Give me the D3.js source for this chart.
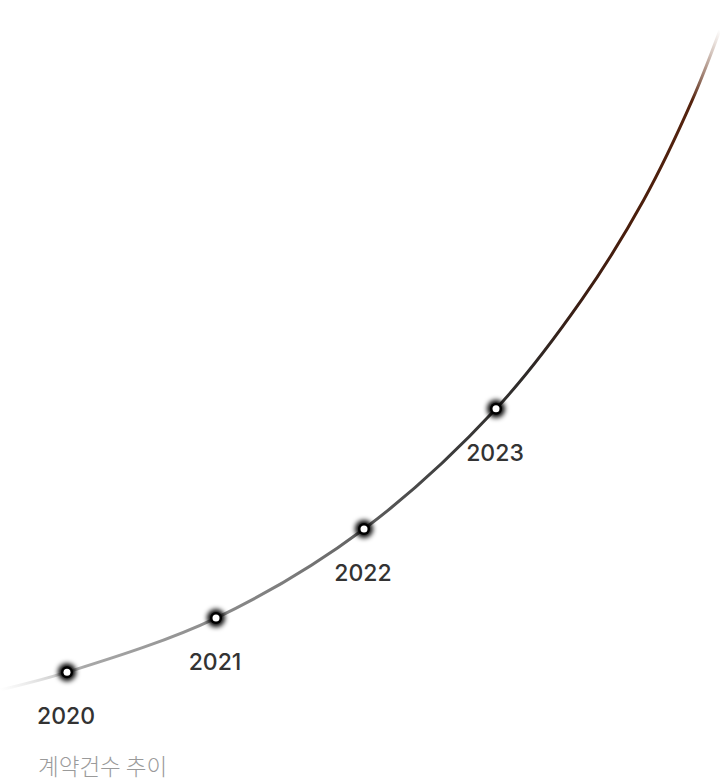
<!DOCTYPE html>
<html>
<head>
<meta charset="utf-8">
<script src="https://cdn.jsdelivr.net/npm/d3@7"></script>
<style>
  body { margin: 0; background: #fff; }
  svg { display: block; }
</style>
</head>
<body>
<script>
// chart size
const width = 720;
const height = 784;

// data: yearly contract counts (relative)
const years = [2020, 2021, 2022, 2023];
const counts = [27, 109, 244, 426];
// the curve runs a little past the first and last year and fades out
const leadYears = [2019.55];
const leadCounts = [0];
const tailYears = [2023.65, 2024.12, 2024.49, 2024.7];
const tailCounts = [591, 742, 894, 1000];
const title = "계약건수 추이";

// scales
const xScale = d3.scaleLinear()
  .domain([2019.55, 2020, 2021, 2022, 2023, 2024.7])
  .range([0, 67, 216, 364, 496, 720]);
const yScale = d3.scaleLinear().domain([0, 1000]).range([690, 30]);

const svg = d3.select("body")
  .append("svg")
    .attr("width", width)
    .attr("height", height);

const defs = svg.append("defs");

// line colour runs from light grey to dark grey to brown, fading at both ends
const grad = defs.append("linearGradient")
  .attr("id", "lineGrad")
  .attr("gradientUnits", "userSpaceOnUse")
  .attr("x1", 0).attr("y1", 690)
  .attr("x2", 720).attr("y2", 30);
[
  [0, "#cccccc", 0],
  [0.08, "#a8a8a8", 1],
  [0.3, "#7a7a7a", 1],
  [0.5, "#3c3c3c", 1],
  [0.62, "#2e2a28", 1],
  [0.7, "#3a1e14", 1],
  [0.8, "#4a1e0c", 1],
  [0.93, "#55230e", 1],
  [1, "#8a5a40", 0]
].forEach(s => {
  grad.append("stop")
    .attr("offset", s[0])
    .attr("stop-color", s[1])
    .attr("stop-opacity", s[2]);
});

// soft glow behind the markers
defs.append("filter")
  .attr("id", "glow")
  .attr("x", "-100%").attr("y", "-100%")
  .attr("width", "300%").attr("height", "300%")
  .append("feGaussianBlur")
  .attr("stdDeviation", 2.8);

const points = years.map((y, i) => ({ x: y, y: counts[i] }));
const linePoints = leadYears.map((y, i) => ({ x: y, y: leadCounts[i] }))
  .concat(points)
  .concat(tailYears.map((y, i) => ({ x: y, y: tailCounts[i] })));

const line = d3.line()
  .x(d => xScale(d.x))
  .y(d => yScale(d.y))
  .curve(d3.curveCatmullRom.alpha(0.5));

svg.append("path")
  .datum(linePoints)
  .attr("fill", "none")
  .attr("stroke", "url(#lineGrad)")
  .attr("stroke-width", 3)
  .attr("d", line);

// markers
const marks = svg.selectAll(".mark")
  .data(points)
  .enter()
  .append("g")
    .attr("class", "mark")
    .attr("transform", d => `translate(${xScale(d.x)}, ${yScale(d.y)})`);

marks.append("circle")
  .attr("r", 9)
  .attr("fill", "#000")
  .attr("filter", "url(#glow)");
marks.append("circle")
  .attr("r", 6)
  .attr("fill", "#000");
marks.append("circle")
  .attr("r", 3.5)
  .attr("fill", "#fff");

// year labels under each marker
svg.selectAll(".year")
  .data(points)
  .enter()
  .append("text")
    .attr("class", "year")
    .attr("x", d => xScale(d.x) - 1)
    .attr("y", d => yScale(d.y) + 52)
    .attr("text-anchor", "middle")
    .attr("font-family", "Inter, 'Noto Sans', sans-serif")
    .attr("font-size", 23)
    .attr("font-weight", 500)
    .attr("fill", "#333")
    .text(d => d.x);

// caption
svg.append("text")
  .attr("x", 38)
  .attr("y", 775)
  .attr("font-family", "'Noto Sans CJK KR', sans-serif")
  .attr("font-size", 22.5)
  .attr("font-weight", 300)
  .attr("fill", "#9a9a9a")
  .text(title);
</script>
</body>
</html>
